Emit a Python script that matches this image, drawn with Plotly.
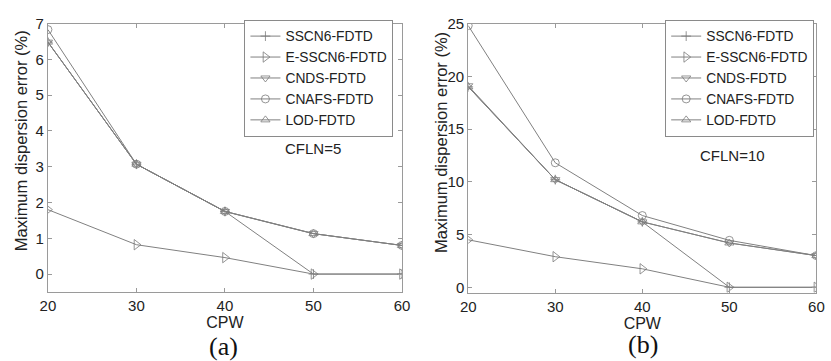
import plotly.graph_objects as go

cpw = [20, 30, 40, 50, 60]
series_names = ["SSCN6-FDTD", "E-SSCN6-FDTD", "CNDS-FDTD", "CNAFS-FDTD", "LOD-FDTD"]

# Panel (a): CFLN=5
a_sscn6 = [6.48, 3.07, 1.75, 0.0, 0.0]
a_esscn6 = [1.80, 0.82, 0.46, 0.0, 0.0]
a_cnds = [6.48, 3.07, 1.75, 1.13, 0.80]
a_cnafs = [6.83, 3.07, 1.75, 1.13, 0.80]
a_lod = [6.48, 3.07, 1.75, 1.13, 0.80]

# Panel (b): CFLN=10
b_sscn6 = [19.0, 10.2, 6.2, 0.0, 0.0]
b_esscn6 = [4.5, 2.9, 1.75, 0.0, 0.0]
b_cnds = [19.1, 10.2, 6.2, 4.2, 3.0]
b_cnafs = [24.8, 11.8, 6.8, 4.45, 3.0]
b_lod = [19.0, 10.2, 6.2, 4.2, 3.0]

x_ticks = [20, 30, 40, 50, 60]
a_yticks = [0, 1, 2, 3, 4, 5, 6, 7]
b_yticks = [0, 5, 10, 15, 20, 25]

symbols = ["cross-thin-open", "triangle-right-open", "triangle-down-open", "circle-open", "triangle-up-open"]
sizes = [7, 9, 8, 8, 8]
LINE = "#808080"
MK = "#7a7a7a"
AX = "#9a9a9a"
FONT = "Liberation Sans, Arial, sans-serif"

fig = go.Figure()

a_data = [a_sscn6, a_esscn6, a_cnds, a_cnafs, a_lod]
b_data = [b_sscn6, b_esscn6, b_cnds, b_cnafs, b_lod]

for i, (name, ys) in enumerate(zip(series_names, a_data)):
    fig.add_trace(go.Scatter(
        x=cpw, y=ys, name=name, mode="lines+markers", xaxis="x", yaxis="y",
        legend="legend",
        line=dict(color=LINE, width=1),
        marker=dict(symbol=symbols[i], size=sizes[i], color=MK,
                    line=dict(color=MK, width=0.8)),
    ))
for i, (name, ys) in enumerate(zip(series_names, b_data)):
    fig.add_trace(go.Scatter(
        x=cpw, y=ys, name=name, mode="lines+markers", xaxis="x2", yaxis="y2",
        legend="legend2",
        line=dict(color=LINE, width=1),
        marker=dict(symbol=symbols[i], size=sizes[i], color=MK,
                    line=dict(color=MK, width=0.8)),
    ))

axis_common = dict(
    showgrid=False, zeroline=False, showline=True, linecolor=AX, linewidth=1,
    mirror="ticks", ticks="inside", ticklen=4, tickcolor=AX,
    tickfont=dict(family=FONT, size=15, color="#222222"),
)

legend_common = dict(
    bgcolor="white", bordercolor="#8a8a8a", borderwidth=1,
    font=dict(family=FONT, size=13.8, color="#222222"),
    xanchor="right", yanchor="top", tracegroupgap=0, itemwidth=30,
)

title_font = dict(family=FONT, size=16, color="#222222")
ytitle_font = dict(family=FONT, size=16.5, color="#222222")
serif = dict(family="Liberation Serif, Times New Roman, serif", size=26, color="#111111")
ytitle = "Maximum dispersion error (%)"

fig.update_layout(
    width=831, height=361,
    margin=dict(l=0, r=0, t=0, b=0),
    paper_bgcolor="white", plot_bgcolor="white",
    showlegend=True,
    xaxis=dict(domain=[0.049, 0.4834], range=[20, 60], tickvals=x_ticks, anchor="y",
               title=dict(text="CPW", font=title_font, standoff=2),
               **axis_common),
    yaxis=dict(domain=[0.1892, 0.9584], range=[-0.5, 7], tickvals=a_yticks, anchor="x",
               **axis_common),
    xaxis2=dict(domain=[0.5647, 0.9919], range=[20, 60], tickvals=x_ticks, anchor="y2",
                title=dict(text="CPW", font=title_font, standoff=2),
                **axis_common),
    yaxis2=dict(domain=[0.1875, 0.9584], range=[-0.5, 25], tickvals=b_yticks, anchor="x2",
                **axis_common),
    legend=dict(x=393 / 831, y=(361 - 11) / 361, **legend_common),
    legend2=dict(x=822 / 831, y=(361 - 11) / 361, **legend_common),
    annotations=[
        dict(text=ytitle, x=14 / 831, y=(361 - 136) / 361, xref="paper", yref="paper",
             textangle=-90, xanchor="center", yanchor="middle", showarrow=False, font=ytitle_font),
        dict(text=ytitle, x=442 / 831, y=(361 - 138) / 361, xref="paper", yref="paper",
             textangle=-90, xanchor="center", yanchor="middle", showarrow=False, font=ytitle_font),
        dict(text="CFLN=5", x=50, y=3.5, xref="x", yref="y", showarrow=False,
             font=dict(family=FONT, size=15, color="#222222")),
        dict(text="CFLN=10", x=50.4, y=12.5, xref="x2", yref="y2", showarrow=False,
             font=dict(family=FONT, size=15, color="#222222")),
        dict(text="(a)", x=220 / 831, y=(361 - 349) / 361, xref="paper", yref="paper",
             xanchor="center", yanchor="middle", showarrow=False, font=serif),
        dict(text="(b)", x=647 / 831, y=(361 - 347) / 361, xref="paper", yref="paper",
             xanchor="center", yanchor="middle", showarrow=False, font=serif),
    ],
)

fig.write_html("out.html")
